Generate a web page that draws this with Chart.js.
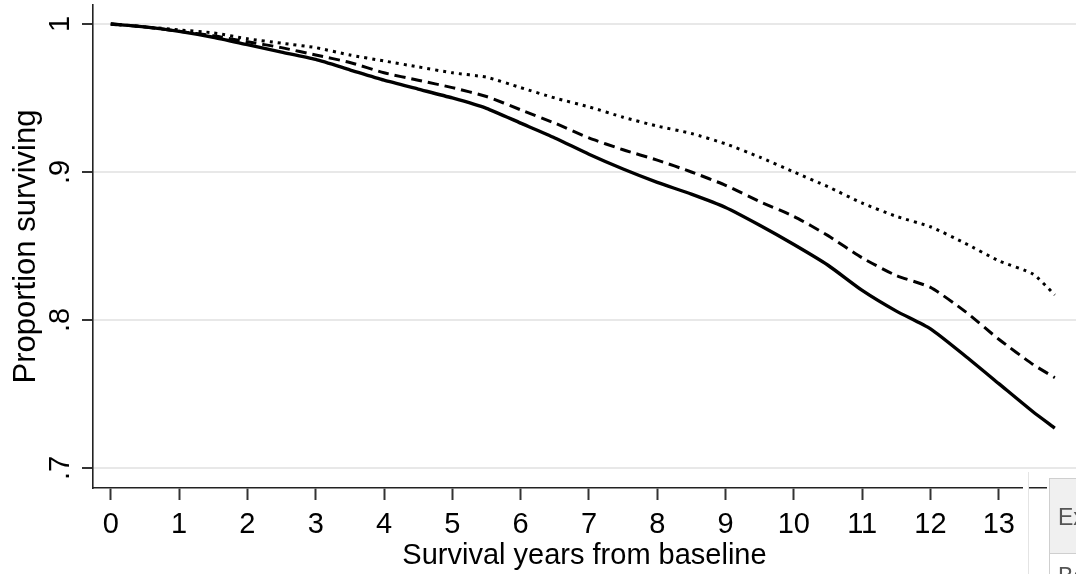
<!DOCTYPE html>
<html><head><meta charset="utf-8">
<script src="https://cdn.jsdelivr.net/npm/chart.js@4"></script>
<style>html,body{margin:0;padding:0;background:#fff;overflow:hidden}#wrap{width:1076px;height:574px;position:relative}</style>
</head><body><div id="wrap"><canvas id="c"></canvas></div>
<script>
// ---- data ----
const years = [0,0.5,1,1.5,2,2.5,3,3.5,4,4.5,5,5.5,6,6.5,7,7.5,8,8.5,9,9.5,10,10.5,11,11.5,12,12.5,13,13.5,13.82];
const solidSurv  = [1.000,0.998,0.995,0.991,0.986,0.981,0.976,0.969,0.962,0.956,0.950,0.943,0.933,0.923,0.912,0.902,0.893,0.885,0.876,0.864,0.851,0.837,0.820,0.806,0.794,0.776,0.757,0.738,0.727];
const dashedSurv = [1.000,0.998,0.995,0.992,0.988,0.984,0.979,0.974,0.967,0.962,0.957,0.951,0.942,0.933,0.923,0.915,0.908,0.900,0.891,0.880,0.870,0.857,0.842,0.830,0.822,0.806,0.787,0.770,0.761];
const dottedSurv = [1.000,0.998,0.996,0.994,0.990,0.987,0.984,0.979,0.975,0.971,0.967,0.964,0.957,0.950,0.944,0.937,0.931,0.926,0.919,0.910,0.900,0.890,0.879,0.870,0.863,0.852,0.840,0.831,0.817];
const xTickValues = [0,1,2,3,4,5,6,7,8,9,10,11,12,13];
const yTickValues = [0.7,0.8,0.9,1];
const yTickLabels = ['.7','.8','.9','1'];
const xTitle = 'Survival years from baseline';
const yTitle = 'Proportion surviving';
const panelTexts = ['Ex','Ba'];

const FONT = "'Liberation Sans', Arial, sans-serif";
const pts = arr => years.map((x,i)=>({x, y: arr[i]}));

const yLabelPlugin = {
  id: 'yLabels',
  afterDraw(chart) {
    const ctx = chart.ctx, ys = chart.scales.y;
    ctx.save();
    ctx.fillStyle = '#000';
    ctx.font = '29px ' + FONT;
    ctx.textAlign = 'center';
    ctx.textBaseline = 'alphabetic';
    yTickValues.forEach((v,i)=>{
      const py = ys.getPixelForValue(v);
      ctx.save();
      ctx.translate(69, py);
      ctx.rotate(-Math.PI/2);
      ctx.fillText(yTickLabels[i], 0, 0);
      ctx.restore();
    });
    ctx.restore();
  }
};

const overlayPlugin = {
  id: 'overlay',
  afterDraw(chart) {
    const ctx = chart.ctx;
    ctx.save();
    ctx.fillStyle = '#fff';
    ctx.fillRect(1023, 472, 6, 102);
    ctx.fillStyle = '#e4e4e4';
    ctx.fillRect(1028, 472, 1, 102);
    ctx.fillStyle = '#fff';
    ctx.fillRect(1047, 476, 29, 98);
    ctx.fillStyle = '#f0f0f0';
    ctx.fillRect(1049, 478, 27, 75);
    ctx.strokeStyle = '#cfcfcf';
    ctx.lineWidth = 1;
    ctx.strokeRect(1049.5, 478.5, 40, 120);
    ctx.beginPath(); ctx.moveTo(1049, 553.5); ctx.lineTo(1076, 553.5); ctx.stroke();
    ctx.fillStyle = '#555';
    ctx.font = '23px ' + FONT;
    ctx.textAlign = 'left';
    ctx.textBaseline = 'alphabetic';
    ctx.fillText(panelTexts[0], 1058, 525);
    ctx.fillText(panelTexts[1], 1058, 584);
    ctx.restore();
  }
};

new Chart(document.getElementById('c'), {
  type: 'line',
  data: {
    datasets: [
      { label: 'solid', data: pts(solidSurv), borderColor: '#000', borderWidth: 3.4, pointRadius: 0, tension: 0.2, fill: false },
      { label: 'dashed', data: pts(dashedSurv), borderColor: '#000', borderWidth: 3, borderDash: [11,6], pointRadius: 0, tension: 0.2, fill: false },
      { label: 'dotted', data: pts(dottedSurv), borderColor: '#000', borderWidth: 3, borderDash: [3,5], pointRadius: 0, tension: 0.2, fill: false }
    ]
  },
  options: {
    responsive: true, maintainAspectRatio: false, animation: false, devicePixelRatio: 1,
    layout: { padding: { top: 5, right: 0, left: 0, bottom: 0 } },
    plugins: { legend: { display: false }, tooltip: { enabled: false } },
    scales: {
      x: {
        type: 'linear', min: -0.26, max: 14.13,
        afterBuildTicks: s => { s.ticks = xTickValues.map(v=>({value:v})); },
        afterFit: s => { s.height = 86; },
        ticks: { color: '#000', font: { family: FONT, size: 29 }, padding: 8, maxRotation: 0, autoSkip: false, callback: v => String(v) },
        grid: { drawOnChartArea: false, drawTicks: true, tickLength: 12, tickColor: '#333', tickWidth: 2 },
        border: { display: true, color: '#222', width: 1.6 },
        title: { display: true, text: xTitle, color: '#000', font: { family: FONT, size: 29 }, padding: { top: 0, bottom: 1 } }
      },
      y: {
        type: 'linear', min: 0.6865, max: 1.0128,
        afterBuildTicks: s => { s.ticks = yTickValues.map(v=>({value:v})); },
        afterFit: s => { s.width = 93; },
        ticks: { display: false },
        grid: { drawOnChartArea: true, color: '#e8e8e8', lineWidth: 2, drawTicks: true, tickLength: 11, tickColor: '#333', tickWidth: 2 },
        border: { display: true, color: '#222', width: 1.6 },
        title: { display: true, text: yTitle, color: '#000', font: { family: FONT, size: 31 }, padding: { top: 8, bottom: 0 } }
      }
    }
  },
  plugins: [yLabelPlugin, overlayPlugin]
});
</script>
</body></html>
